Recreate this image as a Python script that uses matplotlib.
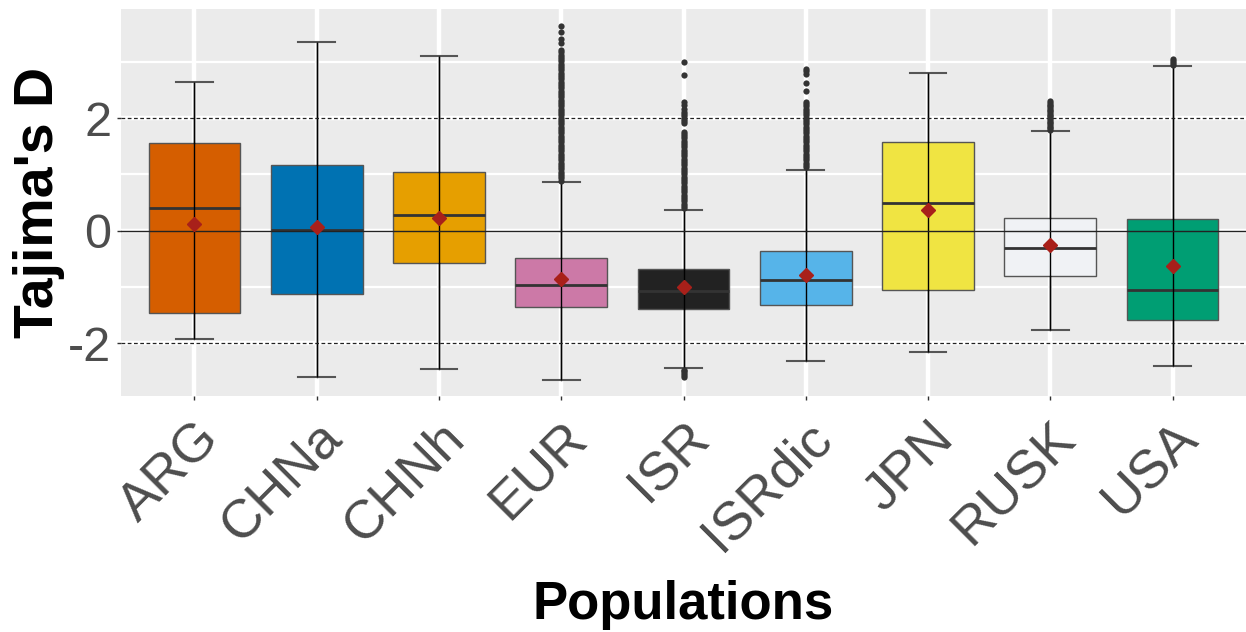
import numpy as np
import matplotlib.pyplot as plt
from matplotlib.ticker import MultipleLocator

plt.rcParams['font.family'] = ['Liberation Sans', 'DejaVu Sans']

populations = ['ARG', 'CHNa', 'CHNh', 'EUR', 'ISR', 'ISRdic', 'JPN', 'RUSK', 'USA']
box_colors = ['#D55E00', '#0072B2', '#E69F00', '#CC79A7', '#222222',
              '#56B4E9', '#F0E442', '#F0F2F5', '#009E73']

# box summaries per population
whisker_low = [-1.93, -2.61, -2.46, -2.65, -2.44, -2.32, -2.15, -1.76, -2.40]
q1 = [-1.46, -1.12, -0.57, -1.36, -1.40, -1.33, -1.05, -0.81, -1.59]
median = [0.40, 0.02, 0.27, -0.96, -1.07, -0.88, 0.49, -0.31, -1.05]
q3 = [1.56, 1.17, 1.05, -0.48, -0.69, -0.36, 1.58, 0.23, 0.21]
whisker_high = [2.65, 3.36, 3.11, 0.86, 0.37, 1.08, 2.81, 1.77, 2.92]
mean = [0.11, 0.07, 0.22, -0.86, -1.00, -0.79, 0.37, -0.26, -0.63]

# outlying windows
out_arg = []
out_chna = []
out_chnh = []
out_eur = [3.64, 3.53, 3.41, 3.33, 3.21, 3.17, 3.13, 3.09, 3.05, 3.01, 2.97,
           2.93, 2.89, 2.85, 2.81, 2.77, 2.73, 2.69, 2.65, 2.61, 2.57, 2.53,
           2.49, 2.45, 2.41, 2.37, 2.33, 2.29, 2.25, 2.21, 2.17, 2.13, 2.09,
           2.05, 2.01, 1.97, 1.93, 1.89, 1.85, 1.81, 1.77, 1.73, 1.69, 1.65,
           1.61, 1.57, 1.53, 1.49, 1.45, 1.41, 1.37, 1.33, 1.29, 1.25, 1.21,
           1.17, 1.13, 1.09, 1.05, 1.01, 0.97, 0.93, 0.89]
out_isr = [3.00, 2.76, 2.29, 2.23, 2.17, 2.11, 2.07, 2.03, 1.99, 1.95, 1.91,
           1.76, 1.72, 1.68, 1.64, 1.60, 1.56, 1.52, 1.48, 1.44, 1.40, 1.36,
           1.32, 1.28, 1.24, 1.20, 1.16, 1.12, 1.08, 1.04, 1.00, 0.96, 0.92,
           0.88, 0.84, 0.80, 0.76, 0.72, 0.68, 0.64, 0.60, 0.56, 0.52, 0.48,
           0.44, 0.40, -2.47, -2.50, -2.53, -2.56, -2.60]
out_isrdic = [2.88, 2.84, 2.79, 2.63, 2.49, 2.29, 2.25, 2.21, 2.17, 2.13, 2.09,
              2.05, 2.01, 1.97, 1.93, 1.89, 1.85, 1.81, 1.77, 1.73, 1.69, 1.65,
              1.61, 1.57, 1.53, 1.49, 1.45, 1.41, 1.37, 1.33, 1.29, 1.25, 1.21,
              1.17, 1.13]
out_jpn = []
out_rusk = [2.30, 2.27, 2.24, 2.21, 2.18, 2.15, 2.12, 2.09, 2.06, 2.03, 2.00,
            1.97, 1.94, 1.91, 1.88, 1.85, 1.82, 1.79]
out_usa = [3.06, 3.02, 2.98, 2.95]
outliers = [out_arg, out_chna, out_chnh, out_eur, out_isr, out_isrdic,
            out_jpn, out_rusk, out_usa]

positions = np.arange(1, len(populations) + 1)

stats = []
for i, name in enumerate(populations):
    stats.append({
        'label': name,
        'whislo': whisker_low[i],
        'q1': q1[i],
        'med': median[i],
        'q3': q3[i],
        'whishi': whisker_high[i],
        'mean': mean[i],
        'fliers': np.array(outliers[i]),
    })

fig = plt.figure(figsize=(12.46, 6.32), dpi=100)
ax = fig.add_axes([121 / 1246, 236 / 632, 1 - 121 / 1246, 387 / 632])
ax.set_facecolor('#EBEBEB')

bp = ax.bxp(
    stats, positions=positions, widths=0.75, capwidths=0.3,
    patch_artist=True, showmeans=True, showfliers=True,
    boxprops=dict(edgecolor='#555555', linewidth=1.0),
    medianprops=dict(color='#333333', linewidth=2.0),
    whiskerprops=dict(color='black', linewidth=1.0),
    capprops=dict(color='#555555', linewidth=1.5),
    meanprops=dict(marker='D', markerfacecolor='#A8201A', markeredgecolor='#A8201A',
                   markersize=7),
    flierprops=dict(marker='o', markerfacecolor='#333333', markeredgecolor='none',
                    markersize=4.5),
)
for patch, color in zip(bp['boxes'], box_colors):
    patch.set_facecolor(color)
    patch.set_zorder(2)

# whisker line runs straight through each box
ax.vlines(positions, whisker_low, whisker_high, color='black', linewidth=1.0, zorder=3)
for m in bp['means']:
    m.set_zorder(5)
for f in bp['fliers']:
    f.set_zorder(4)

ax.axhline(0, color='#222222', linewidth=1.0, zorder=3.5)
ax.axhline(2, color='#222222', linewidth=0.9, linestyle=(0, (3, 2)), zorder=3.5)
ax.axhline(-2, color='#222222', linewidth=0.9, linestyle=(0, (3, 2)), zorder=3.5)

ax.set_xlim(0.4, 9.6)
ax.set_ylim(-2.94, 3.94)
ax.yaxis.set_minor_locator(MultipleLocator(1))
ax.set_yticks([-2, 0, 2])
ax.set_yticklabels(['-2', '0', '2'])
ax.set_xticks(positions)
ax.set_xticklabels(populations, rotation=45, ha='right', va='top',
                   rotation_mode='anchor')

ax.grid(True, which='major', color='white', linewidth=3.2)
ax.grid(True, which='minor', axis='y', color='white', linewidth=1.6)
ax.set_axisbelow(True)
for s in ax.spines.values():
    s.set_visible(False)

ax.tick_params(axis='both', which='major', colors='#333333', length=3, width=1,
               labelcolor='#4D4D4D', pad=4)
ax.tick_params(axis='y', which='major', labelsize=35)
ax.tick_params(axis='x', which='major', labelsize=39, pad=9)
ax.tick_params(axis='y', which='minor', length=0)

ax.set_xlabel('Populations', fontsize=38, fontweight='bold', labelpad=14)
ax.set_ylabel("Tajima's D", fontsize=40, fontweight='bold', labelpad=2)

fig.savefig('out.png', dpi=100)
